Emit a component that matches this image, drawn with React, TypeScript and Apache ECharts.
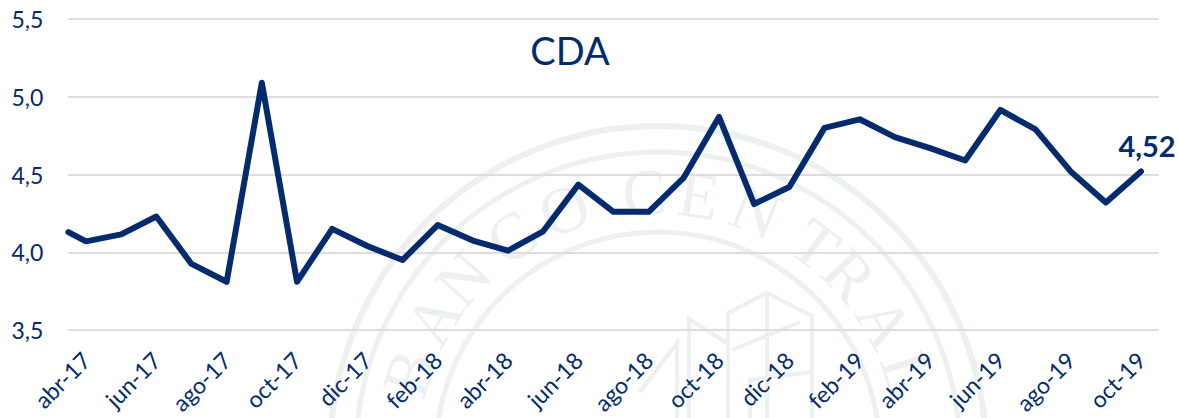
import React, { useEffect, useRef } from "react";
import * as echarts from "echarts";

const title = "CDA";
const monthLabels = [
  "abr-17","may-17","jun-17","jul-17","ago-17","sep-17","oct-17","nov-17","dic-17","ene-18","feb-18",
  "mar-18","abr-18","may-18","jun-18","jul-18","ago-18","sep-18","oct-18","nov-18","dic-18","ene-19",
  "feb-19","mar-19","abr-19","may-19","jun-19","jul-19","ago-19","sep-19","oct-19",
];
const cdaValues = [
  4.07, 4.115, 4.23, 3.925, 3.81, 5.09, 3.81, 4.15, 4.04, 3.95, 4.175,
  4.075, 4.01, 4.135, 4.435, 4.26, 4.26, 4.48, 4.87, 4.31, 4.42, 4.80,
  4.855, 4.74, 4.67, 4.59, 4.915, 4.79, 4.52, 4.32, 4.52,
];
const clippedLeadingValue = 4.13;
const yMin = 3.5;
const yMax = 5.5;
const yStep = 0.5;

const sealLetters = ["B","A","N","C","O","C","E","N","T","R","A","L"];
const sealAngles = [-72, -59, -48, -34, -21, -3, 9, 22, 37, 47, 60, 72];
const sealRings = [
  { r: 328, w: 6 },
  { r: 302, w: 5 },
  { r: 222, w: 5 },
];
const sealLines = [
  [[728,418],[728,313],[767,293],[812,316],[812,418]],
  [[767,293],[767,418]],
  [[689,418],[689,319],[727,343]],
  [[640,392],[677,343],[677,418]],
  [[732,350],[800,322]],
  [[750,418],[750,380],[812,372]],
];

const NAVY = "#032B6E";
const SEAL = "#ECF0EE";
const FONT = "Lato";
const CX = 658;
const CY = 454;

export default function App() {
  const ref = useRef<HTMLDivElement>(null);
  useEffect(() => {
    document.body.style.margin = "0";
    const chart = echarts.init(ref.current!, undefined, { renderer: "svg" });
    const graphics: any[] = [];
    sealRings.forEach((g) =>
      graphics.push({ type: "circle", z: -1, silent: true, shape: { cx: CX, cy: CY, r: g.r }, style: { fill: "none", stroke: SEAL, lineWidth: g.w } })
    );
    sealLines.forEach((pts) =>
      graphics.push({ type: "polyline", z: -1, silent: true, shape: { points: pts }, style: { fill: "none", stroke: SEAL, lineWidth: 4 } })
    );
    sealLetters.forEach((ch, i) => {
      const a = (sealAngles[i] * Math.PI) / 180;
      graphics.push({
        type: "text", z: -1, silent: true,
        x: CX + 262 * Math.sin(a), y: CY - 262 * Math.cos(a), rotation: -a,
        style: { text: ch, fill: SEAL, font: '66px "Liberation Serif"', textAlign: "center", textVerticalAlign: "middle" },
      });
    });
    graphics.push({
      type: "text", z: 5, x: 570, y: 50,
      style: { text: title, fill: NAVY, font: `38px ${FONT}`, textAlign: "center", textVerticalAlign: "middle" },
    });
    const lineData = [[0, clippedLeadingValue], ...cdaValues.map((v, i) => [i + 0.5, v])];
    chart.setOption({
      animation: false,
      backgroundColor: "#fff",
      graphic: graphics,
      grid: { left: 68.4, right: 20.4, top: 19, bottom: 88, containLabel: false },
      xAxis: [
        {
          type: "category", data: monthLabels, boundaryGap: true,
          axisLine: { show: false }, axisTick: { show: false }, splitLine: { show: false },
          axisLabel: { interval: 1, rotate: 45, margin: 26, color: NAVY, fontFamily: FONT, fontSize: 23 },
        },
        { type: "value", min: 0, max: monthLabels.length, show: false, splitLine: { show: false } },
      ],
      yAxis: {
        type: "value", min: yMin, max: yMax, interval: yStep,
        axisLine: { show: false }, axisTick: { show: false },
        splitLine: { lineStyle: { color: "#DDDDDD", width: 2 } },
        axisLabel: {
          color: NAVY, fontFamily: FONT, fontSize: 23, margin: 25,
          formatter: (v: number) => v.toFixed(1).replace(".", ","),
        },
      },
      series: [
        {
          type: "line", xAxisIndex: 1, data: lineData, symbol: "none", smooth: false,
          lineStyle: { color: NAVY, width: 6, cap: "round", join: "round" },
          endLabel: {
            show: true, align: "center", verticalAlign: "middle", distance: 0, offset: [6, -26],
            color: NAVY, fontFamily: FONT, fontWeight: "bold", fontSize: 29,
            formatter: () => cdaValues[cdaValues.length - 1].toFixed(2).replace(".", ","),
          },
        },
      ],
    });
    return () => chart.dispose();
  }, []);
  return <div ref={ref} style={{ width: 1179, height: 418 }} />;
}
